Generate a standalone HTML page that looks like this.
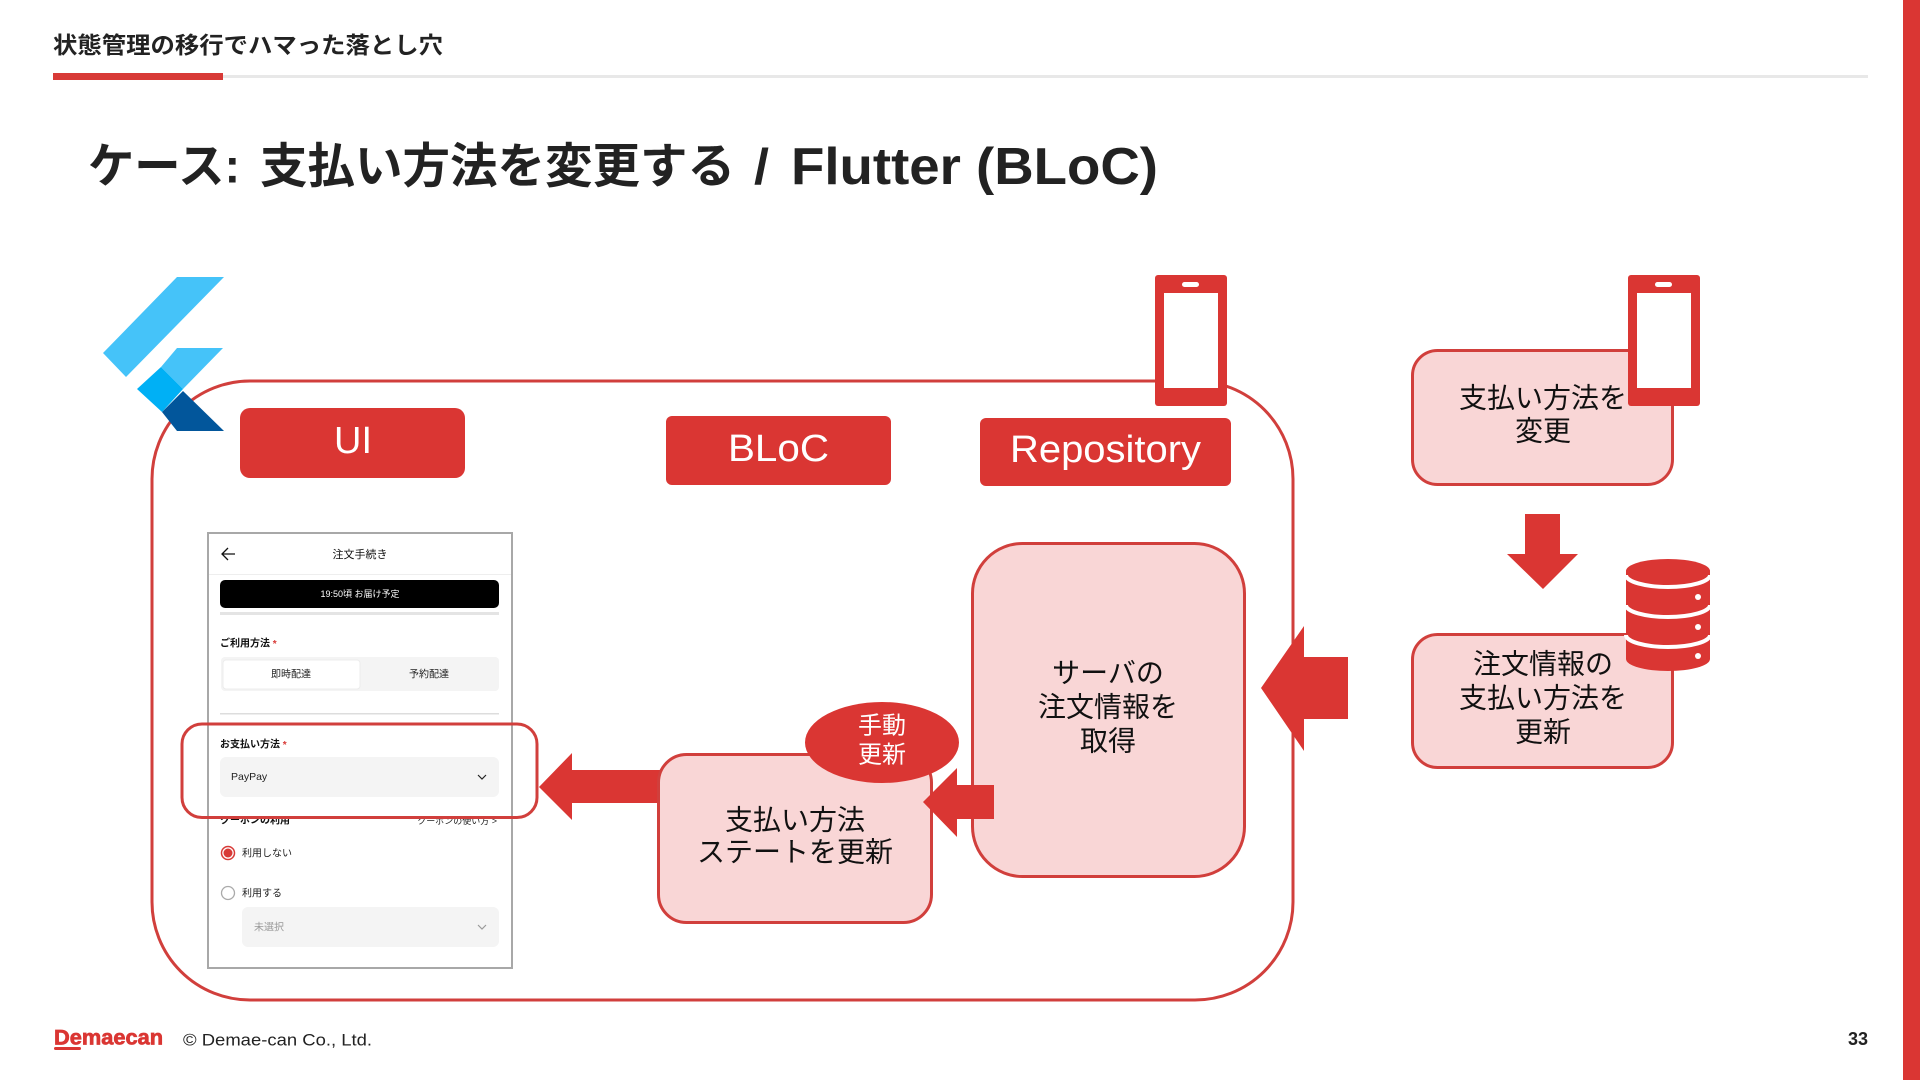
<!DOCTYPE html>
<html lang="ja"><head><meta charset="utf-8"><title>ケース: 支払い方法を変更する</title>
<style>
html,body{margin:0;padding:0;background:#fff;width:1920px;height:1080px;overflow:hidden}
svg{display:block}
text{font-family:"Liberation Sans","Noto Sans CJK JP",sans-serif;dominant-baseline:central}
.b{fill:#f9d6d6;stroke:#d13f3c;stroke-width:3}
.t{font-size:28px;fill:#111;text-anchor:middle}
.w{fill:#fff;text-anchor:middle;font-size:38px}
.s{font-size:10px;fill:#222}
.sb{font-size:10px;fill:#111;font-weight:700}
</style></head><body>
<svg width="1920" height="1080" viewBox="0 0 1920 1080" xmlns="http://www.w3.org/2000/svg">
<rect width="1920" height="1080" fill="#fff"/>
<rect x="1903" y="0" width="17" height="1080" fill="#da3633"/>
<text x="53" y="45" font-size="23" font-weight="700" fill="#222" textLength="390" lengthAdjust="spacingAndGlyphs">状態管理の移行でハマった落とし穴</text>
<rect x="223" y="75" width="1645" height="3" fill="#e8e8e8"/>
<rect x="53" y="73" width="170" height="7" fill="#d83a37"/>
<text x="88" y="167" font-size="48" font-weight="700" fill="#222" textLength="152" lengthAdjust="spacingAndGlyphs">ケース:</text>
<text x="260" y="167" font-size="48" font-weight="700" fill="#222" textLength="475" lengthAdjust="spacingAndGlyphs">支払い方法を変更する</text>
<text x="754" y="167" font-size="50" font-weight="700" fill="#222" textLength="15" lengthAdjust="spacingAndGlyphs">/</text>
<text x="791" y="167" font-size="52" font-weight="700" fill="#222" textLength="367" lengthAdjust="spacingAndGlyphs">Flutter (BLoC)</text>

<!-- main container -->
<rect x="152" y="381" width="1141" height="619" rx="98" fill="none" stroke="#d13f3c" stroke-width="3"/>

<!-- flutter logo -->
<polygon points="177,277 224,277 126,377 103,353" fill="#45c3f9"/>
<polygon points="177,348 223,348 183,389 161,367" fill="#45c3f9"/>
<polygon points="161,367 183,389 162,412 137,389" fill="#00b0f5"/>
<polygon points="183,391 224,431 177,431 162,412" fill="#02569b"/>

<!-- headers -->
<rect x="240" y="408" width="225" height="70" rx="10" fill="#da3633"/>
<text x="353" y="441" class="w">UI</text>
<rect x="666" y="416" width="225" height="69" rx="6" fill="#da3633"/>
<text x="728" y="449" class="w" style="text-anchor:start" textLength="101" lengthAdjust="spacingAndGlyphs">BLoC</text>
<rect x="980" y="418" width="251" height="68" rx="6" fill="#da3633"/>
<text x="1010" y="450" class="w" style="text-anchor:start" textLength="191" lengthAdjust="spacingAndGlyphs">Repository</text>

<!-- phone 1 -->
<rect x="1155" y="275" width="72" height="131" rx="3" fill="#da3633"/>
<rect x="1164" y="293" width="54" height="95" fill="#fff"/>
<rect x="1182" y="282" width="17" height="5" rx="2.5" fill="#fff"/>

<!-- screenshot -->
<rect x="208" y="533" width="304" height="435" fill="#fff" stroke="#a8a8a8" stroke-width="2"/>
<path d="M235 554H222M228 548l-6 6 6 6" fill="none" stroke="#111" stroke-width="1.3"/>
<text x="360" y="555" class="sb" style="font-size:11px;font-weight:400;text-anchor:middle">注文手続き</text>
<rect x="209" y="574" width="302" height="1" fill="#eee"/>
<rect x="220" y="612" width="279" height="3" fill="#e4e4e4"/>
<rect x="220" y="580" width="279" height="28" rx="5" fill="#000"/>
<text x="360" y="594" style="font-size:9px;fill:#fff;text-anchor:middle">19:50頃 お届け予定</text>
<text x="220" y="644" class="sb">ご利用方法 <tspan fill="#d83a37">*</tspan></text>
<rect x="221" y="657" width="278" height="34" rx="4" fill="#f4f4f4"/>
<rect x="223" y="660" width="137" height="29" rx="3" fill="#fff" stroke="#ececec" stroke-width="1"/>
<text x="291" y="675" class="s" style="text-anchor:middle">即時配達</text>
<text x="429" y="675" class="s" style="text-anchor:middle">予約配達</text>
<rect x="220" y="713" width="279" height="1.5" fill="#ddd"/>
<text x="220" y="745" class="sb">お支払い方法 <tspan fill="#d83a37">*</tspan></text>
<rect x="220" y="757" width="279" height="40" rx="6" fill="#f4f4f4"/>
<text x="231" y="777" class="s" style="font-size:10.5px">PayPay</text>
<path d="M478 775l4 4 4-4" fill="none" stroke="#222" stroke-width="1.2"/>
<text x="220" y="821" class="sb">クーポンの利用</text>
<text x="497" y="821" class="s" style="font-size:9px;text-anchor:end">クーポンの使い方 &gt;</text>
<rect x="209" y="800" width="302" height="17" fill="#fff"/>
<circle cx="228" cy="853" r="6.5" fill="#fff" stroke="#d83a37" stroke-width="1.5"/>
<circle cx="228" cy="853" r="4.5" fill="#d83a37"/>
<text x="242" y="854" class="s">利用しない</text>
<circle cx="228" cy="893" r="6.5" fill="#fff" stroke="#aaa" stroke-width="1.3"/>
<text x="242" y="894" class="s">利用する</text>
<rect x="242" y="907" width="257" height="40" rx="6" fill="#f4f4f4"/>
<text x="254" y="928" class="s" style="fill:#999">未選択</text>
<path d="M478 925l4 4 4-4" fill="none" stroke="#999" stroke-width="1.2"/>
<rect x="182" y="724" width="355" height="93.500" rx="20" fill="none" stroke="#d13f3c" stroke-width="3"/>

<!-- left arrow -->
<polygon points="539,787 572,753 572,770 662,770 662,803 572,803 572,820" fill="#da3633"/>

<!-- state box -->
<rect x="658.500" y="754.500" width="273" height="168" rx="28" class="b"/>
<text x="795" y="820" class="t">支払い方法</text>
<text x="795" y="852" class="t">ステートを更新</text>
<ellipse cx="882" cy="742.5" rx="77" ry="40.5" fill="#da3633"/>
<text x="882" y="726" style="font-size:24px;fill:#fff;text-anchor:middle">手動</text>
<text x="882" y="755" style="font-size:24px;fill:#fff;text-anchor:middle">更新</text>

<!-- middle box -->
<rect x="972.500" y="543.500" width="272" height="333" rx="50" class="b"/>
<text x="1108" y="673" class="t">サーバの</text>
<text x="1108" y="707" class="t">注文情報を</text>
<text x="1108" y="741" class="t">取得</text>

<!-- small arrow -->
<polygon points="923,802 957,768 957,785 994,785 994,819 957,819 957,837" fill="#da3633"/>
<!-- big arrow -->
<polygon points="1261,688 1304,626 1304,657 1348,657 1348,719 1304,719 1304,751" fill="#da3633"/>

<!-- right box 1 -->
<rect x="1412.500" y="350.500" width="260" height="134" rx="25" class="b"/>
<text x="1543" y="398" class="t">支払い方法を</text>
<text x="1543" y="431" class="t">変更</text>
<rect x="1628" y="275" width="72" height="131" rx="3" fill="#da3633"/>
<rect x="1637" y="293" width="54" height="95" fill="#fff"/>
<rect x="1655" y="282" width="17" height="5" rx="2.500" fill="#fff"/>

<!-- down arrow -->
<polygon points="1525,514 1560,514 1560,554 1578,554 1543,589 1507,554 1525,554" fill="#da3633"/>

<!-- right box 2 -->
<rect x="1412.500" y="634.500" width="260" height="133" rx="25" class="b"/>
<text x="1543" y="664" class="t">注文情報の</text>
<text x="1543" y="698" class="t">支払い方法を</text>
<text x="1543" y="732" class="t">更新</text>

<!-- database -->
<path d="M1626 571A42 12 0 0 1 1710 571V659A42 12 0 0 1 1626 659Z" fill="#da3633"/>
<path d="M1626 575A42 12 0 0 0 1710 575M1626 605A42 12 0 0 0 1710 605M1626 635A42 12 0 0 0 1710 635" fill="none" stroke="#fff" stroke-width="4"/>
<circle cx="1698" cy="597" r="3" fill="#fff"/>
<circle cx="1698" cy="627" r="3" fill="#fff"/>
<circle cx="1698" cy="656" r="3" fill="#fff"/>

<!-- footer -->
<text x="54" y="1038" font-size="21" font-weight="700" fill="#da3633" stroke="#da3633" stroke-width=".7" textLength="109" lengthAdjust="spacingAndGlyphs">Demaecan</text>
<rect x="54" y="1047" width="27" height="3" rx="1.5" fill="#da3633"/>
<text x="183" y="1040" font-size="17" fill="#222" textLength="189" lengthAdjust="spacingAndGlyphs">© Demae-can Co., Ltd.</text>
<text x="1868" y="1039" font-size="18" font-weight="700" fill="#222" text-anchor="end">33</text>
</svg>
</body></html>
